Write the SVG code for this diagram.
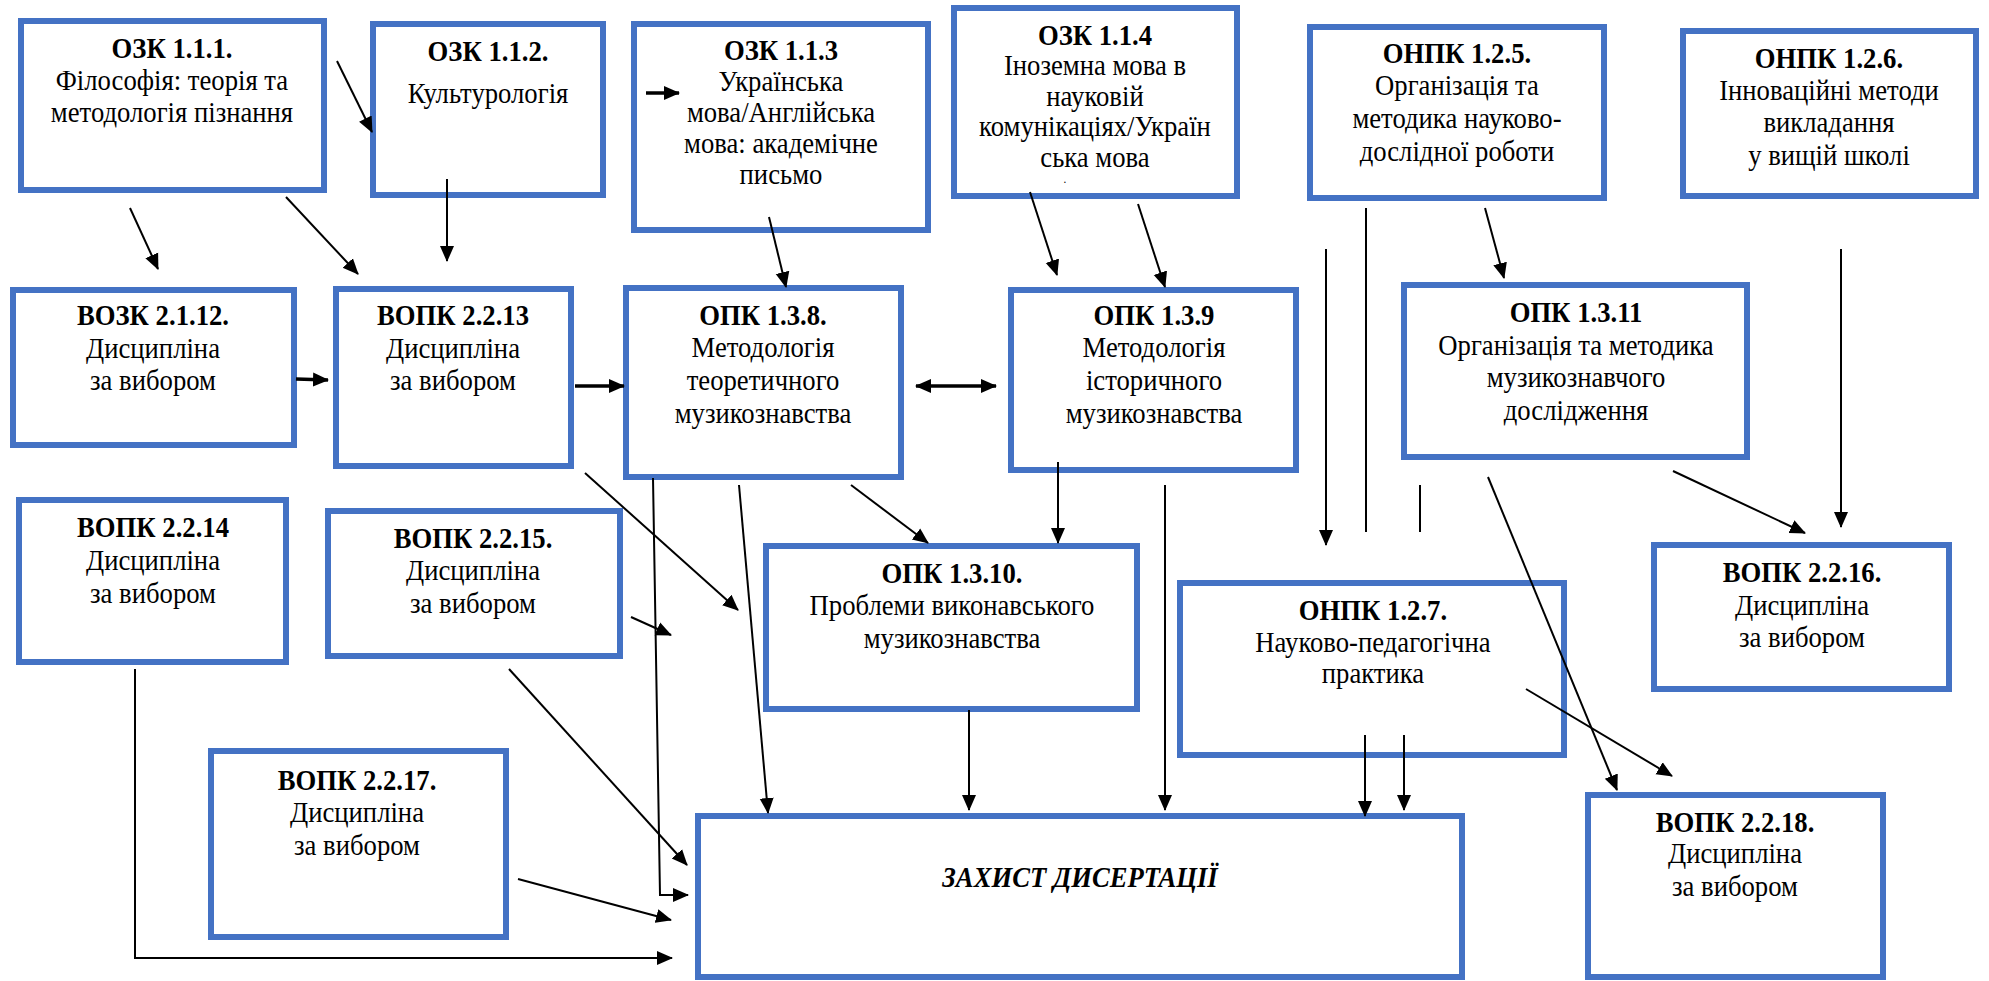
<svg xmlns="http://www.w3.org/2000/svg" width="1989" height="981" viewBox="0 0 1989 981">
<defs>
<style>
.box{fill:#fff;stroke:#4472C4;stroke-width:6}
text{font-family:"Liberation Serif","Times New Roman","DejaVu Serif",serif;font-size:29px;text-anchor:middle;fill:#000;transform-box:fill-box;transform-origin:center;transform:scaleX(0.92)}
.h{font-weight:bold}
.z{font-weight:bold;font-style:italic}
.c{fill:none;stroke:#000;stroke-width:2}
.a{marker-end:url(#ah)}
.k{stroke-width:3.5}
</style>
<marker id="ah" markerUnits="userSpaceOnUse" markerWidth="16" markerHeight="16" refX="15" refY="7" orient="auto-start-reverse" viewBox="0 0 16 14">
<path d="M0,0 L16,7 L0,14 z" fill="#000"/>
</marker>
</defs>
<rect width="1989" height="981" fill="#fff"/>

<g id="n111" font-family="Liberation Serif, serif"><rect class="box" x="21" y="21" width="303" height="169"/>
<text class="h" x="172" y="58">ОЗК 1.1.1.</text>
<text class="t" x="172" y="90">Філософія: теорія та</text>
<text class="t" x="172" y="122">методологія пізнання</text></g>

<g id="n112"><rect class="box" x="373" y="24" width="230" height="171"/>
<text class="h" x="488" y="61">ОЗК 1.1.2.</text>
<text class="t" x="488" y="103">Культурологія</text></g>

<g id="n113"><rect class="box" x="634" y="24" width="294" height="206"/>
<text class="h" x="781" y="60">ОЗК 1.1.3</text>
<text class="t" x="781" y="91">Українська</text>
<text class="t" x="781" y="122">мова/Англійська</text>
<text class="t" x="781" y="153">мова: академічне</text>
<text class="t" x="781" y="184">письмо</text></g>

<g id="n114"><rect class="box" x="954" y="8" width="283" height="188"/>
<text class="h" x="1095" y="45">ОЗК 1.1.4</text>
<text class="t" x="1095" y="75">Іноземна мова в</text>
<text class="t" x="1095" y="106">науковій</text>
<text class="t" x="1095" y="136">комунікаціях/Україн</text>
<text class="t" x="1095" y="167">ська мова</text>
<text class="t" x="1065" y="183" style="font-size:12px">.</text></g>

<g id="n125"><rect class="box" x="1310" y="27" width="294" height="171"/>
<text class="h" x="1457" y="63">ОНПК 1.2.5.</text>
<text class="t" x="1457" y="95">Організація та</text>
<text class="t" x="1457" y="128">методика науково-</text>
<text class="t" x="1457" y="161">дослідної роботи</text></g>

<g id="n126"><rect class="box" x="1683" y="31" width="293" height="165"/>
<text class="h" x="1829" y="68">ОНПК 1.2.6.</text>
<text class="t" x="1829" y="100">Інноваційні методи</text>
<text class="t" x="1829" y="132">викладання</text>
<text class="t" x="1829" y="165">у вищій школі</text></g>

<g id="n2112"><rect class="box" x="13" y="290" width="281" height="155"/>
<text class="h" x="153" y="325">ВОЗК 2.1.12.</text>
<text class="t" x="153" y="358">Дисципліна</text>
<text class="t" x="153" y="390">за вибором</text></g>

<g id="n2213"><rect class="box" x="336" y="289" width="235" height="177"/>
<text class="h" x="453" y="325">ВОПК 2.2.13</text>
<text class="t" x="453" y="358">Дисципліна</text>
<text class="t" x="453" y="390">за вибором</text></g>

<g id="n138"><rect class="box" x="626" y="288" width="275" height="189"/>
<text class="h" x="763" y="325">ОПК 1.3.8.</text>
<text class="t" x="763" y="357">Методологія</text>
<text class="t" x="763" y="390">теоретичного</text>
<text class="t" x="763" y="423">музикознавства</text></g>

<g id="n139"><rect class="box" x="1011" y="290" width="285" height="180"/>
<text class="h" x="1154" y="325">ОПК 1.3.9</text>
<text class="t" x="1154" y="357">Методологія</text>
<text class="t" x="1154" y="390">історичного</text>
<text class="t" x="1154" y="423">музикознавства</text></g>

<g id="n1311"><rect class="box" x="1404" y="285" width="343" height="172"/>
<text class="h" x="1576" y="322">ОПК 1.3.11</text>
<text class="t" x="1576" y="355">Організація та методика</text>
<text class="t" x="1576" y="387">музикознавчого</text>
<text class="t" x="1576" y="420">дослідження</text></g>

<g id="n2214"><rect class="box" x="19" y="500" width="267" height="162"/>
<text class="h" x="153" y="537">ВОПК 2.2.14</text>
<text class="t" x="153" y="570">Дисципліна</text>
<text class="t" x="153" y="603">за вибором</text></g>

<g id="n2215"><rect class="box" x="328" y="511" width="292" height="145"/>
<text class="h" x="473" y="548">ВОПК 2.2.15.</text>
<text class="t" x="473" y="580">Дисципліна</text>
<text class="t" x="473" y="613">за вибором</text></g>

<g id="n1310"><rect class="box" x="766" y="546" width="371" height="163"/>
<text class="h" x="952" y="583">ОПК 1.3.10.</text>
<text class="t" x="952" y="615">Проблеми виконавського</text>
<text class="t" x="952" y="648">музикознавства</text></g>

<g id="n127"><rect class="box" x="1180" y="583" width="384" height="172"/>
<text class="h" x="1373" y="620">ОНПК 1.2.7.</text>
<text class="t" x="1373" y="652">Науково-педагогічна</text>
<text class="t" x="1373" y="683">практика</text></g>

<g id="n2216"><rect class="box" x="1654" y="545" width="295" height="144"/>
<text class="h" x="1802" y="582">ВОПК 2.2.16.</text>
<text class="t" x="1802" y="615">Дисципліна</text>
<text class="t" x="1802" y="647">за вибором</text></g>

<g id="n2217"><rect class="box" x="211" y="751" width="295" height="186"/>
<text class="h" x="357" y="790">ВОПК 2.2.17.</text>
<text class="t" x="357" y="822">Дисципліна</text>
<text class="t" x="357" y="855">за вибором</text></g>

<g id="nZ"><rect class="box" x="698" y="816" width="764" height="161"/>
<text class="z" x="1080" y="887">ЗАХИСТ ДИСЕРТАЦІЇ</text></g>

<g id="n2218"><rect class="box" x="1588" y="795" width="295" height="182"/>
<text class="h" x="1735" y="832">ВОПК 2.2.18.</text>
<text class="t" x="1735" y="863">Дисципліна</text>
<text class="t" x="1735" y="896">за вибором</text></g>

<g id="connectors">
<line class="c a" x1="337" y1="61" x2="372" y2="132"/>
<line class="c a" x1="130" y1="208" x2="158" y2="269"/>
<line class="c a" x1="286" y1="197" x2="358" y2="274"/>
<line class="c a" x1="447" y1="179" x2="447" y2="261"/>
<line class="c a k" x1="646" y1="93" x2="679" y2="93"/>
<line class="c a" x1="769" y1="217" x2="786" y2="287"/>
<line class="c a" x1="1030" y1="192" x2="1057" y2="275"/>
<line class="c a" x1="1138" y1="204" x2="1165" y2="287"/>
<line class="c a" x1="1485" y1="208" x2="1504" y2="278"/>
<line class="c a" x1="1326" y1="249" x2="1326" y2="545"/>
<line class="c" x1="1366" y1="208" x2="1366" y2="532"/>
<line class="c" x1="1420" y1="485" x2="1420" y2="532"/>
<line class="c a" x1="1841" y1="249" x2="1841" y2="527"/>
<line class="c a" x1="1673" y1="471" x2="1805" y2="533"/>
<line class="c a" x1="1488" y1="477" x2="1617" y2="790"/>
<line class="c a" x1="1526" y1="689" x2="1672" y2="776"/>
<line class="c a k" x1="296" y1="379" x2="328" y2="380"/>
<line class="c a k" x1="575" y1="386" x2="624" y2="386"/>
<line class="c a k" x1="916" y1="386" x2="996" y2="386" marker-start="url(#ah)"/>
<line class="c a" x1="585" y1="473" x2="738" y2="610"/>
<polyline class="c a" points="653,478 660,895 688,895"/>
<line class="c a" x1="739" y1="485" x2="768" y2="813"/>
<line class="c a" x1="851" y1="485" x2="928" y2="543"/>
<line class="c a" x1="1058" y1="462" x2="1058" y2="543"/>
<line class="c a" x1="1165" y1="485" x2="1165" y2="810"/>
<line class="c a" x1="631" y1="617" x2="671" y2="635"/>
<line class="c a" x1="509" y1="669" x2="687" y2="865"/>
<line class="c a" x1="518" y1="879" x2="671" y2="920"/>
<polyline class="c a" points="135,669 135,958 672,958"/>
<line class="c a" x1="969" y1="710" x2="969" y2="810"/>
<line class="c a" x1="1365" y1="735" x2="1365" y2="816"/>
<line class="c a" x1="1404" y1="735" x2="1404" y2="810"/>
</g>
</svg>
